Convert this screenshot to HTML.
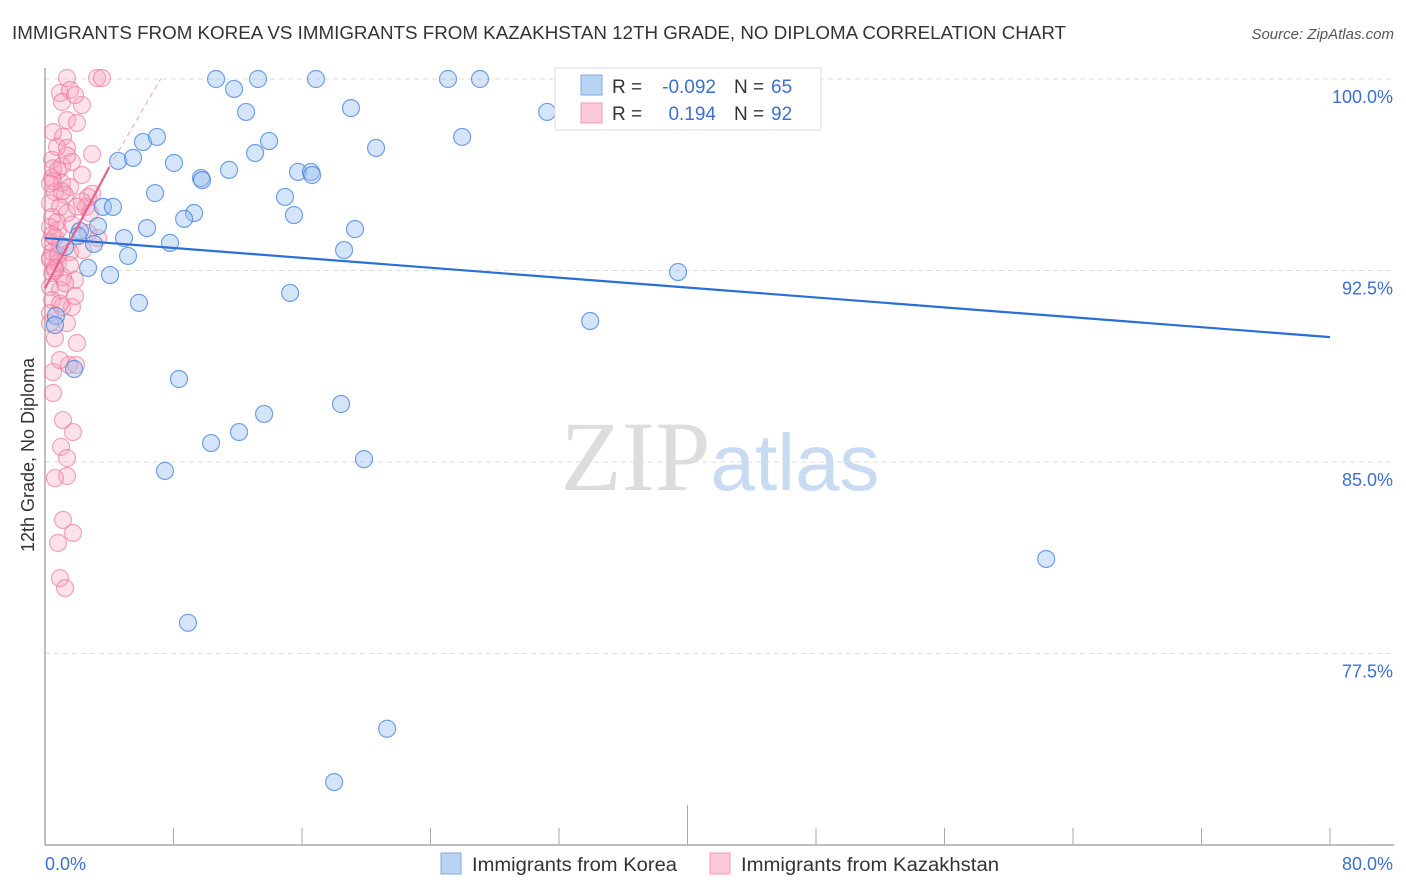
<!DOCTYPE html>
<html><head><meta charset="utf-8"><style>
body{margin:0;background:#fff;font-family:"Liberation Sans",sans-serif;}
svg{display:block}
</style></head><body>
<svg id="chart" width="1406" height="892" xmlns="http://www.w3.org/2000/svg" font-family="Liberation Sans, sans-serif">
<text x="12" y="39" font-size="18" fill="#333" textLength="1054" lengthAdjust="spacingAndGlyphs">IMMIGRANTS FROM KOREA VS IMMIGRANTS FROM KAZAKHSTAN 12TH GRADE, NO DIPLOMA CORRELATION CHART</text>
<text x="1394" y="39" font-size="15" fill="#555" text-anchor="end" font-style="italic">Source: ZipAtlas.com</text>
<text transform="translate(34,455) rotate(-90)" font-size="18" fill="#333" text-anchor="middle">12th Grade, No Diploma</text>
<text x="720" y="490" font-size="100" text-anchor="middle"><tspan fill="#ddd" font-family="Liberation Serif, serif">ZIP</tspan><tspan fill="#c9dbf2" font-size="80">atlas</tspan></text>
<g id="grid"></g><g id="axes"></g><g id="pts"></g><g id="trend"></g>
<g>
<rect x="555" y="68" width="266" height="62" fill="#fff" stroke="#ddd"/>
<rect x="581" y="75" width="21" height="20" fill="#b9d3f5" stroke="#7eaae6"/>
<rect x="581" y="103" width="21" height="20" fill="#fbc8d7" stroke="#f19ab5"/>
<text x="612" y="93" font-size="19" fill="#333">R =</text><text x="716" y="93" font-size="19" fill="#3b6fd0" text-anchor="end">-0.092</text>
<text x="734" y="93" font-size="19" fill="#333">N =</text><text x="771" y="93" font-size="19" fill="#3b6fd0">65</text>
<text x="612" y="120" font-size="19" fill="#333">R =</text><text x="716" y="120" font-size="19" fill="#3b6fd0" text-anchor="end">0.194</text>
<text x="734" y="120" font-size="19" fill="#333">N =</text><text x="771" y="120" font-size="19" fill="#3b6fd0">92</text>
</g>
<g>
<rect x="441" y="853" width="20" height="21" fill="#b9d3f5" stroke="#7eaae6"/>
<text x="472" y="871" font-size="19" fill="#333" textLength="205" lengthAdjust="spacingAndGlyphs">Immigrants from Korea</text>
<rect x="710" y="853" width="20" height="21" fill="#fbc8d7" stroke="#f19ab5"/>
<text x="741" y="871" font-size="19" fill="#333" textLength="258" lengthAdjust="spacingAndGlyphs">Immigrants from Kazakhstan</text>
</g>
</svg>
<script>
const yTicks=[100,92.5,85,77.5];
const yTickLabels=["100.0%","92.5%","85.0%","77.5%"];
const xTickLabels=["0.0%","80.0%"];
const koreaX=[10.65,11.77,13.26,16.87,25.09,27.08,39.35,12.52,19.05,31.26,25.97,20.61,6.10,6.97,13.95,13.08,4.55,5.48,8.03,9.71,9.78,11.46,15.75,16.56,16.63,6.85,14.94,3.61,4.23,9.28,8.66,15.50,19.30,6.35,3.30,2.18,2.05,4.92,3.05,7.78,18.62,5.17,2.68,4.05,39.41,15.26,5.85,33.94,0.68,0.62,1.81,8.34,18.43,13.64,12.08,10.34,19.86,7.47,62.33,8.90,21.30,18.00,1.25];
const koreaY=[100,99.61,100,100,100,100,100,98.71,98.86,98.71,97.73,97.30,97.53,97.73,97.57,97.10,96.79,96.91,96.71,96.12,96.04,96.44,96.36,96.36,96.24,95.53,95.38,94.99,94.99,94.75,94.52,94.67,94.12,94.16,94.24,94.05,93.85,93.77,93.54,93.58,93.30,93.07,92.60,92.32,92.44,91.62,91.23,90.52,90.72,90.36,88.64,88.25,87.27,86.88,86.17,85.74,85.11,84.65,81.20,78.70,74.55,72.46,93.42];
const kazX=[1.37,3.24,3.55,0.93,1.56,1.06,2.3,1.87,1.37,1.99,0.5,1.12,0.75,1.37,2.93,0.44,1.68,0.81,2.3,0.44,1.06,1.56,0.62,1.25,2.68,0.31,0.93,0.44,1.37,0.31,0.81,2.68,3.3,0.31,0.93,0.44,1.56,0.31,0.81,1.87,1.12,0.44,0.31,0.93,0.44,1.68,0.31,1.06,0.31,0.62,1.99,0.5,0.5,1.12,1.74,1.37,1.0,0.62,1.37,1.12,1.74,0.81,0.93,1.25,1.49,2.55,2.8,2.37,1.56,1.87,1.37,0.93,1.93,0.62,0.75,1.06,0.5,1.99,2.93,0.31,0.62,1.25,0.44,0.81,1.68,0.62,1.06,0.31,1.37,0.5,0.93,2.3];
const kazY=[100.04,100.04,100.04,99.45,99.57,99.1,98.98,99.37,98.39,98.28,97.92,97.73,97.34,97.3,97.06,96.83,96.75,96.43,96.24,96.12,95.93,95.77,95.57,95.46,95.38,95.14,94.99,94.59,94.75,94.2,94.09,93.97,93.77,93.62,93.5,93.22,93.22,92.91,92.79,92.13,92.24,92.4,91.85,91.74,91.34,91.07,90.83,91.07,90.44,89.85,89.66,88.52,87.7,86.64,86.17,84.45,85.59,84.37,85.15,82.73,82.22,81.83,80.45,80.06,88.8,94.99,94.75,93.3,92.71,91.5,90.44,88.99,88.8,93.8,94.4,95.6,96.0,95.0,95.5,93.0,92.5,92.0,93.9,93.1,94.3,92.6,96.6,95.9,97.0,96.5,91.2,95.2];
const koreaTrend=[93.77,89.89];
const kazTrend=[91.8,96.55];
const kazTrendExt=100.0;
const kazExtX=7.2;
const X0=45,X1=1330,YTOP=79,PXPER=25.53;
const sx=v=>X0+(X1-X0)*v/80;
const sy=v=>YTOP+(100-v)*PXPER;
const NS="http://www.w3.org/2000/svg";
function mk(tag,attrs,parent){const e=document.createElementNS(NS,tag);for(const k in attrs)e.setAttribute(k,attrs[k]);parent.appendChild(e);return e;}
const grid=document.getElementById('grid'),axes=document.getElementById('axes'),pts=document.getElementById('pts'),tr=document.getElementById('trend');
yTicks.forEach((t,i)=>{
  const l=mk('line',{x1:X0,x2:1394,y1:sy(t),y2:sy(t),stroke:'#ddd','stroke-dasharray':'5,4'},grid);
  
  
  const tx=mk('text',{x:1393,y:sy(t)+24,'font-size':18,fill:'#3b6fd0','text-anchor':'end'},axes);
  tx.textContent=yTickLabels[i];
  
  
});
const yBottom=845;
let a=mk('line',{x1:X0,x2:X0,y1:68,y2:yBottom,stroke:'#aaa','stroke-width':1.5},axes);


a=mk('line',{x1:X0,x2:1394,y1:yBottom,y2:yBottom,stroke:'#aaa','stroke-width':1.5},axes);


for(let v=8;v<=80;v+=8){
  const t=mk('line',{x1:sx(v),x2:sx(v),y1:v===40?805:828,y2:yBottom,stroke:'#aaa'},axes);
  
  
}
let xl=mk('text',{x:45,y:870,'font-size':18,fill:'#3b6fd0'},axes);xl.textContent=xTickLabels[0];


xl=mk('text',{x:1393,y:870,'font-size':18,fill:'#3b6fd0','text-anchor':'end'},axes);xl.textContent=xTickLabels[1];


kazX.forEach((x,i)=>{
  const c=mk('circle',{cx:sx(x),cy:sy(kazY[i]),r:8.5,fill:'rgba(247,160,185,0.3)',stroke:'rgba(235,120,155,0.65)','stroke-width':1.2},pts);
  
  
});
koreaX.forEach((x,i)=>{
  const c=mk('circle',{cx:sx(x),cy:sy(koreaY[i]),r:8.5,fill:'rgba(150,190,240,0.4)',stroke:'rgba(70,130,220,0.75)','stroke-width':1.2},pts);
  
  
});
let l=mk('line',{x1:sx(0),y1:sy(koreaTrend[0]),x2:sx(80),y2:sy(koreaTrend[1]),stroke:'#2a6fd6','stroke-width':2.2},tr);


l=mk('line',{x1:sx(0),y1:sy(kazTrend[0]),x2:sx(4),y2:sy(kazTrend[1]),stroke:'#e8608a','stroke-width':2.2},tr);


l=mk('line',{x1:sx(4),y1:sy(kazTrend[1]),x2:sx(kazExtX),y2:sy(kazTrendExt),stroke:'#f0a0b8','stroke-width':1,'stroke-dasharray':'5,4'},tr);


</script>
</body></html>
